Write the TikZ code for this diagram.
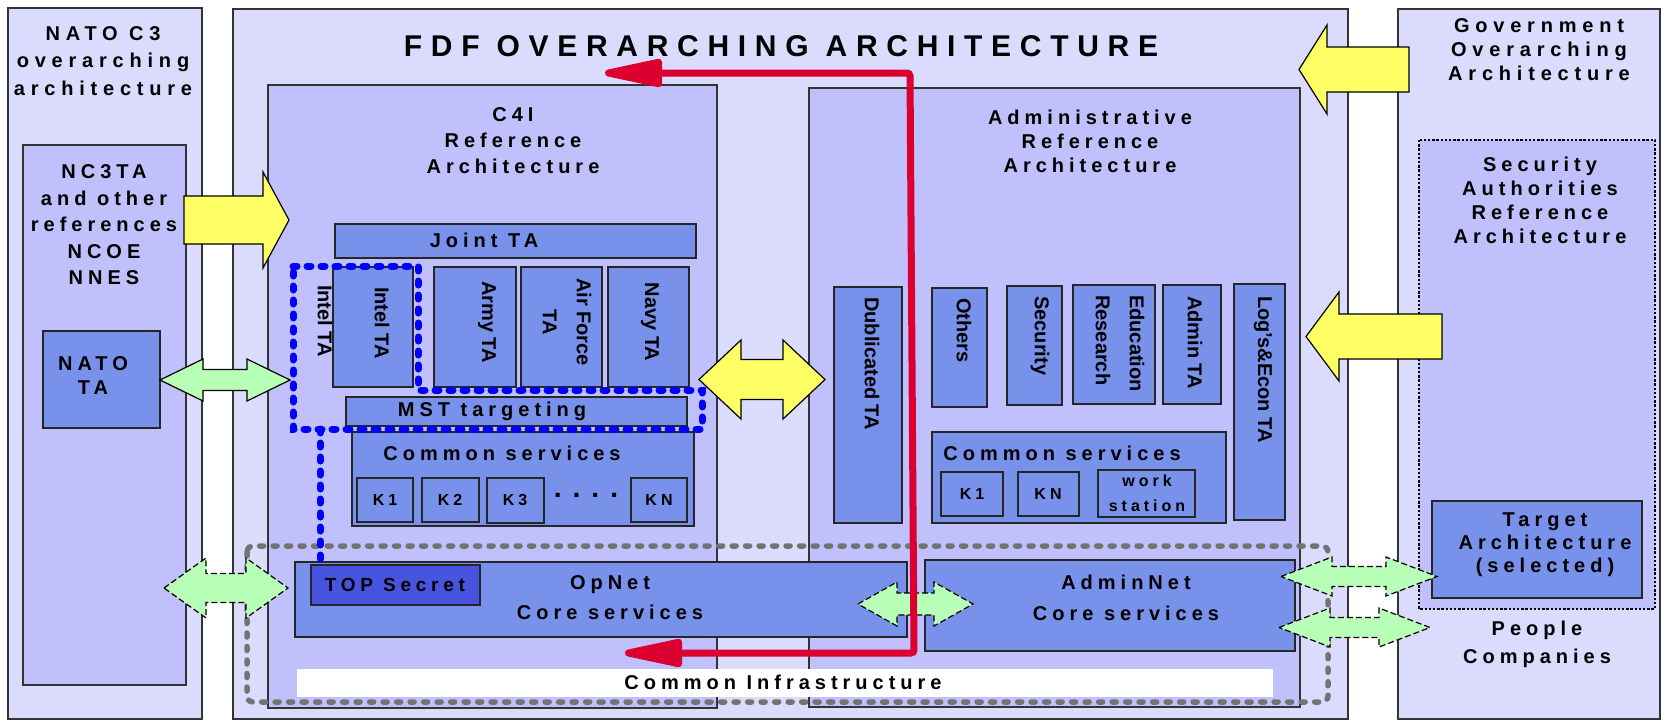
\documentclass[tikz,border=0pt]{standalone}
\usepackage{fontspec}
\setmainfont{Liberation Sans}
\newfontfamily\spaced{Liberation Sans}[LetterSpace=25]
\newfontfamily\wide{Liberation Sans}[LetterSpace=29]
\usetikzlibrary{arrows.meta}

\definecolor{pale}{RGB}{219,219,253}
\definecolor{lilac}{RGB}{192,192,252}
\definecolor{tabox}{RGB}{120,145,235}
\definecolor{secret}{RGB}{72,84,224}
\definecolor{hiyellow}{RGB}{255,255,102}
\definecolor{mint}{RGB}{184,255,184}
\definecolor{crimson}{RGB}{220,0,48}

% block arrows: style, left tip, right tip, y, head length, head half, shaft half
\newcommand{\twoway}[7]{%
  \draw[#1] (#2,#4) -- ({#2+#5},{#4-#6}) -- ({#2+#5},{#4-#7}) -- ({#3-#5},{#4-#7})
    -- ({#3-#5},{#4-#6}) -- (#3,#4) -- ({#3-#5},{#4+#6}) -- ({#3-#5},{#4+#7})
    -- ({#2+#5},{#4+#7}) -- ({#2+#5},{#4+#6}) -- cycle;}
% style, tip, tail, y, head length (signed), head half, shaft half
\newcommand{\oneway}[7]{%
  \draw[#1] (#2,#4) -- ({#2+#5},{#4-#6}) -- ({#2+#5},{#4-#7}) -- (#3,{#4-#7})
    -- (#3,{#4+#7}) -- ({#2+#5},{#4+#7}) -- ({#2+#5},{#4+#6}) -- cycle;}

\begin{document}
\begin{tikzpicture}[x=1pt,y=-1pt,
  frame/.style={draw=black!80,line width=1.4pt,fill=pale},
  inner/.style={draw=black!80,line width=1.4pt,fill=lilac},
  ta/.style={draw=black!85,line width=1.3pt,fill=tabox},
  lbl/.style={font=\fontsize{20}{#1}\spaced\bfseries,align=center,inner sep=0pt},
  lbl/.default=24,
  small/.style={font=\fontsize{16}{#1}\spaced\bfseries,align=center,inner sep=0pt},
  small/.default=25,
  vlbl/.style={font=\fontsize{20}{34}\bfseries,rotate=-90,inner sep=0pt},
  yarrow/.style={draw=black,line width=1.2pt,fill=hiyellow},
  garrow/.style={draw=black,line width=1.2pt,fill=mint},
  gdash/.style={garrow,dash pattern=on 6pt off 3pt},
  intel/.style={draw=blue,line width=7pt,line cap=round,dash pattern=on 4pt off 10pt},
  infra/.style={draw=black!55,line width=5.5pt,line cap=round,dash pattern=on 4pt off 9.5pt,rounded corners=6pt},
  flow/.style={draw=crimson,line width=7pt,rounded corners=3pt,
    {Triangle[length=72pt,width=28pt,round]}-{Triangle[length=72pt,width=28pt,round]}},
]
  \useasboundingbox (0,0) rectangle (1662,721);

  \draw[frame] (8,8) rectangle (202,719);
  \draw[frame] (233,9) rectangle (1348,719);
  \draw[frame] (1398,9) rectangle (1660,719);

  \draw[inner] (23,145) rectangle (186,685);
  \draw[ta] (43,331) rectangle (160,428);
  \draw[inner] (268,85) rectangle (717,708);
  \draw[inner] (809,88) rectangle (1300,707);
  \draw[inner,draw=black,line width=2.6pt,dash pattern=on 2.4pt off 1.8pt] (1419,140) rectangle (1655,609);
  \draw[ta] (1432,501) rectangle (1642,598);

  \draw[ta] (335,224) rectangle (696,258);
  \draw[ta] (333,267) rectangle (413,387);
  \draw[ta] (434,267) rectangle (516,387);
  \draw[ta] (521,267) rectangle (602,387);
  \draw[ta] (608,267) rectangle (689,387);
  \draw[ta] (346,397) rectangle (687,426);
  \draw[ta] (352,432) rectangle (694,526);
  \draw[ta] (357,478) rectangle (413,522);
  \draw[ta] (422,478) rectangle (479,522);
  \draw[ta] (487,478) rectangle (544,523);
  \draw[ta] (631,478) rectangle (687,522);
  \draw[ta] (295,562) rectangle (907,637);
  \draw[ta,fill=secret] (311,565) rectangle (480,605);

  \draw[ta] (834,287) rectangle (902,523);
  \draw[ta] (932,288) rectangle (987,407);
  \draw[ta] (1007,286) rectangle (1062,405);
  \draw[ta] (1073,285) rectangle (1155,404);
  \draw[ta] (1163,285) rectangle (1221,404);
  \draw[ta] (1234,284) rectangle (1285,520);
  \draw[ta] (932,432) rectangle (1226,523);
  \draw[ta] (941,472) rectangle (1003,516);
  \draw[ta] (1018,472) rectangle (1079,516);
  \draw[ta] (1098,470) rectangle (1195,517);
  \draw[ta] (925,560) rectangle (1295,651);

  \fill[white] (297,669) rectangle (1273,697);

  \node[lbl=27.5,font=\fontsize{20}{27.5}\wide\bfseries] (natoc3) at (103,61) {NATO C3\\overarching\\architecture};
  \node[lbl=26.5] (nc3ta) at (104,225) {NC3TA\\and other\\references\\NCOE\\NNES};
  \node[lbl] (natota) at (93,376) {NATO\\TA};
  \node[font=\fontsize{30}{36}\wide\bfseries,inner sep=0pt] (title) at (781,46) {FDF OVERARCHING ARCHITECTURE};
  \node[lbl=26] (c4i) at (513,141) {C4I\\Reference\\Architecture};
  \node[lbl=24] (admin) at (1090,141) {Administrative\\Reference\\Architecture};
  \node[lbl=24,font=\fontsize{20}{24}\wide\bfseries] (gov) at (1539,50) {Government\\Overarching\\Architecture};
  \node[lbl=24] (secauth) at (1540,200) {Security\\Authorities\\Reference\\Architecture};
  \node[lbl=23] (target) at (1545,545) {Target\\Architecture\\(selected)};
  \node[lbl=28] (people) at (1537,644) {People\\Companies};

  \node[lbl] (joint) at (484,240) {Joint TA};
  \node[lbl] (mst) at (492,411) {MST targeting};
  \node[lbl] (commonop) at (502,453) {Common services};
  \node[small] (k1op) at (385,500) {K1};
  \node[small] (k2op) at (450,500) {K2};
  \node[small] (k3op) at (515,500) {K3};
  \node[font=\fontsize{28}{30}\bfseries,inner sep=0pt] (more) at (586,495) {.\hspace{11pt}.\hspace{11pt}.\hspace{11pt}.};
  \node[small] (knop) at (659,500) {KN};
  \node[lbl=30] (opnet) at (610,598) {OpNet\\Core services};
  \node[lbl,font=\fontsize{19}{24}\spaced\bfseries] (topsecret) at (395,585) {TOP Secret};

  \node[lbl] (commonadm) at (1062,453) {Common services};
  \node[small] (k1adm) at (972,494) {K1};
  \node[small] (knadm) at (1048,494) {KN};
  \node[small] (work) at (1147,493) {work\\station};
  \node[lbl=31] (adminnet) at (1126,598) {AdminNet\\Core services};
  \node[lbl] (infratext) at (783,682) {Common Infrastructure};

  \node[vlbl] (intelout) at (325,321) {Intel TA};
  \node[vlbl] (intelta) at (382,323) {Intel TA};
  \node[vlbl] (armyta) at (487,322) {Army TA};
  \node[vlbl,align=center] (airta) at (567,322) {Air Force\\TA};
  \node[vlbl] (navyta) at (650,322) {Navy TA};
  \node[vlbl,anchor=west] (dubta) at (872,297) {Dublicated TA};
  \node[vlbl,anchor=west] (others) at (964,298) {Others};
  \node[vlbl,anchor=west] (security) at (1040,296) {Security};
  \node[vlbl,anchor=west,align=left] (edu) at (1120,295) {Education\\Research};
  \node[vlbl,anchor=west] (adminta) at (1195,296) {Admin TA};
  \node[vlbl,anchor=west] (logta) at (1263,296) {Log's\&Econ TA};

  \draw[infra] (247,546) rectangle (1328,702);
  \draw[intel] (293,266) -- (418,266) -- (418,390) -- (702,390) -- (702,429) -- (293,429) -- cycle;
  \draw[intel] (320,429) -- (320,559);

  \oneway{yarrow}{289}{184}{220}{-26}{48}{24}
  \oneway{yarrow}{1299}{1409}{69.5}{28}{44.5}{22.5}
  \oneway{yarrow}{1306}{1442}{336.5}{33}{44.5}{22.5}
  \twoway{yarrow}{699}{825}{379.5}{42}{39.5}{20}

  \twoway{garrow}{160}{290}{380}{43}{21}{10.5}
  \twoway{gdash}{164}{288}{588}{42}{30}{14.5}
  \twoway{gdash}{858}{973}{604}{39}{22}{11}
  \twoway{gdash}{1281}{1437}{576.5}{51}{19.5}{10}
  \twoway{gdash}{1279}{1430}{627.5}{51}{19.5}{10}

  \coordinate (flowtop) at (605,73);
  \coordinate (flowturn) at (910,73);
  \coordinate (flowdown) at (914,653);
  \coordinate (flowend) at (625,653);
  \draw[flow] (flowtop) -- (flowturn) -- (flowdown) -- (flowend);
\end{tikzpicture}
\end{document}
